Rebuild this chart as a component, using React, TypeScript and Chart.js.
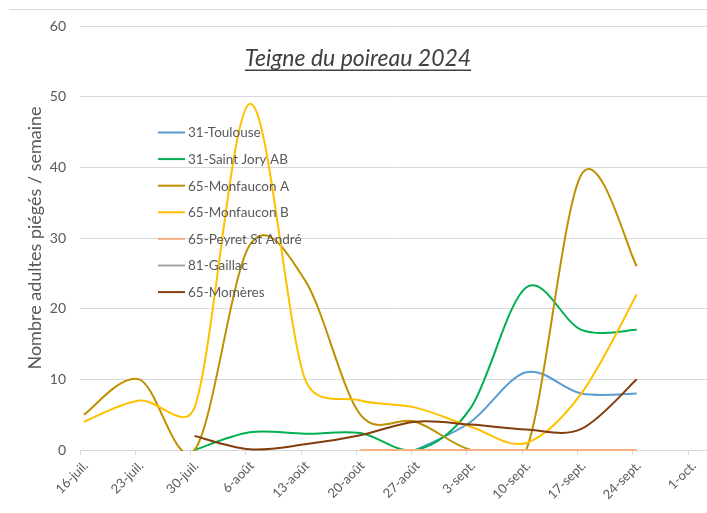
import React, { useEffect, useRef } from 'react';
import { Chart, registerables } from 'chart.js';

Chart.register(...registerables);

// Tick labels (weekly, starting 16-juil.)
const tickLabels = ['16-juil.', '23-juil.', '30-juil.', '6-août', '13-août', '20-août', '27-août', '3-sept.', '10-sept.', '17-sept.', '24-sept.', '1-oct.'];
// Sampling weeks (index into tickLabels)
const sampleWeeks = [0, 1, 2, 3, 4, 5, 6, 7, 8, 9, 10];

const seriesNames = ['31-Toulouse', '31-Saint Jory AB', '65-Monfaucon A', '65-Monfaucon B', '65-Peyret St André', '81-Gaillac', '65-Momères'];
const seriesColors = ['#5B9BD5', '#00B050', '#BF9000', '#FFC000', '#F4B183', '#A5A5A5', '#843C0C'];

const toulouse = [null, null, null, null, null, null, 0, 4, 11, 8, 8];
const saintJory = [null, null, 0, 2.5, 2.3, 2.4, 0, 6, 23, 17, 17];
const monfauconA = [5, 10, 0, 29, 24, 5, 4, 0, 0, 39, 26];
const monfauconB = [4, 7, 6, 49, 10, 7, 6, 3.3, 1, 8, 22];
const peyret = [null, null, null, null, null, 0, 0, 0, 0, 0, 0];
const gaillac = [null, null, null, null, null, null, null, null, null, null, null];
const momeres = [null, null, 2, 0.1, 0.8, 2.1, 4, 3.6, 2.9, 3, 10];

const seriesValues = [toulouse, saintJory, monfauconA, monfauconB, peyret, gaillac, momeres];

const titleText = 'Teigne du poireau 2024';
const yTitle = 'Nombre adultes piégés / semaine';
const FONT = 'Lato, "Open Sans", sans-serif';

// Excel-like smoothing: Catmull-Rom (1/6) control points, capped at half segment length
const excelSmoothPlugin = {
  id: 'excelSmooth',
  beforeDatasetDraw(chart: any, args: any) {
    const meta = args.meta;
    const line = meta.dataset;
    if (!line) return;
    if (typeof line.updateControlPoints === 'function') line.updateControlPoints(chart.chartArea, meta.indexAxis);
    const pts = (meta.data as any[]).filter((p) => !p.skip);
    const n = pts.length;
    for (let i = 0; i < n; i++) {
      const p = pts[i];
      const prev = pts[i - 1] || p;
      const next = pts[i + 1] || p;
      const tx = next.x - prev.x;
      const ty = next.y - prev.y;
      const d02 = Math.hypot(tx, ty) || 1;
      const dIn = Math.hypot(p.x - prev.x, p.y - prev.y);
      const dOut = Math.hypot(next.x - p.x, next.y - p.y);
      const fIn = Math.min(1 / 6, dIn / (2 * d02));
      const fOut = Math.min(1 / 6, dOut / (2 * d02));
      p.cp1x = p.x - fIn * tx;
      p.cp1y = p.y - fIn * ty;
      p.cp2x = p.x + fOut * tx;
      p.cp2y = p.y + fOut * ty;
    }
  },
};

const overlayPlugin = {
  id: 'overlay',
  afterDraw(chart: any) {
    const ctx = chart.ctx as CanvasRenderingContext2D;
    ctx.save();
    // faint frame line at the top
    ctx.strokeStyle = '#d9d9d9';
    ctx.lineWidth = 1;
    ctx.beginPath();
    ctx.moveTo(9, 9.5);
    ctx.lineTo(chart.width, 9.5);
    ctx.stroke();

    // title
    ctx.font = `italic 23px ${FONT}`;
    ctx.fillStyle = '#404040';
    ctx.textAlign = 'center';
    ctx.textBaseline = 'alphabetic';
    const cx = 358;
    const by = 66;
    ctx.fillText(titleText, cx, by);
    const tw = ctx.measureText(titleText).width;
    ctx.fillRect(cx - tw / 2, by + 3.5, tw, 1.5);

    // legend
    ctx.font = `13.5px ${FONT}`;
    ctx.textAlign = 'left';
    ctx.textBaseline = 'middle';
    const ds = chart.data.datasets;
    for (let i = 0; i < ds.length; i++) {
      const y = 132.5 + i * 26.6;
      ctx.strokeStyle = ds[i].borderColor;
      ctx.lineWidth = 2;
      ctx.beginPath();
      ctx.moveTo(158, y);
      ctx.lineTo(185, y);
      ctx.stroke();
      ctx.fillStyle = '#595959';
      ctx.fillText(ds[i].label, 188, y + 0.5);
    }
    ctx.restore();
  },
};

export default function App() {
  const canvasRef = useRef<HTMLCanvasElement | null>(null);

  useEffect(() => {
    document.body.style.margin = '0';
    const canvas = canvasRef.current;
    if (!canvas) return;

    const datasets = seriesNames.map((name, si) => ({
      label: name,
      data: sampleWeeks.map((w, i) => ({ x: w * 7 + 0.5, y: seriesValues[si][i] })),
      borderColor: seriesColors[si],
      backgroundColor: seriesColors[si],
      borderWidth: 2,
      pointRadius: 0,
      pointHoverRadius: 0,
      tension: 0.4,
      fill: false,
      spanGaps: false,
      order: -si,
      clip: { left: 0, top: 0, right: 0, bottom: 1 },
    }));

    const chart = new Chart(canvas, {
      type: 'line',
      data: { datasets: datasets as any },
      options: {
        animation: false,
        responsive: false,
        devicePixelRatio: 1,
        layout: { padding: { top: 26, right: 0, left: 0, bottom: 0 } },
        elements: { line: { capBezierPoints: false } },
        plugins: {
          legend: { display: false },
          title: { display: false },
          tooltip: { enabled: false },
        },
        scales: {
          x: {
            type: 'linear',
            min: 0,
            max: 79.4,
            afterBuildTicks: (scale: any) => {
              scale.ticks = tickLabels.map((_, i) => ({ value: i * 7 }));
            },
            afterFit: (scale: any) => {
              scale.height = 63;
            },
            grid: { drawOnChartArea: false, drawTicks: true, tickLength: 5, color: '#d9d9d9', lineWidth: 1 },
            border: { display: true, color: '#d9d9d9', width: 1 },
            ticks: {
              autoSkip: false,
              maxRotation: 45,
              minRotation: 45,
              padding: 3,
              labelOffset: 6,
              color: '#595959',
              font: { family: FONT, size: 13 },
              callback: (v: any) => tickLabels[Math.round(Number(v) / 7)] ?? '',
            },
          },
          y: {
            min: 0,
            max: 60,
            afterFit: (scale: any) => {
              scale.width = 80;
            },
            grid: { color: '#d9d9d9', lineWidth: 1, drawTicks: false },
            border: { display: false },
            ticks: {
              stepSize: 10,
              padding: 14,
              color: '#595959',
              font: { family: FONT, size: 14 },
            },
            title: {
              display: true,
              text: yTitle,
              color: '#595959',
              font: { family: FONT, size: 18 },
              padding: { top: 24, bottom: 0 },
            },
          },
        },
      },
      plugins: [excelSmoothPlugin, overlayPlugin],
    });

    return () => {
      chart.destroy();
    };
  }, []);

  return (
    <div style={{ width: 707, height: 513, position: 'relative', background: '#ffffff' }}>
      <canvas ref={canvasRef} width={707} height={513} style={{ display: 'block' }} />
    </div>
  );
}
